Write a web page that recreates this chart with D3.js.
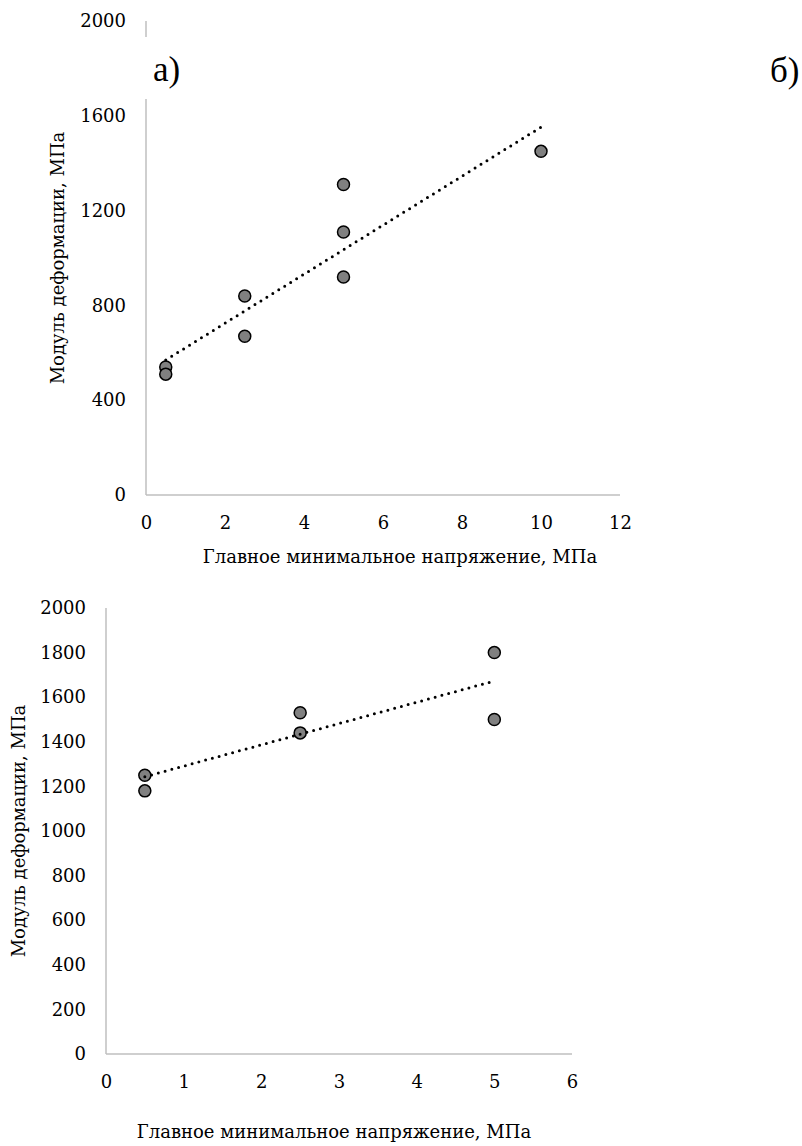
<!DOCTYPE html>
<html lang="ru">
<head>
  <meta charset="UTF-8">
  <title>Модуль деформации</title>
  <script src="https://d3js.org/d3.v7.min.js"></script>
  <style>
    body {
      margin: 0;
      background: #fff;
      font-family: "DejaVu Serif", serif;
    }
    .axis path {
      stroke: #bfbfbf;
      stroke-width: 1.5;
    }
    .axis text {
      font-family: "DejaVu Serif", serif;
      font-size: 18px;
      fill: #000;
    }
    .title {
      font-size: 18px;
      fill: #000;
    }
    .panel {
      font-family: "Liberation Serif", serif;
      font-size: 35px;
      fill: #000;
    }
  </style>
</head>
<body>
  <div id="chart"></div>

  <script>
    // данные: верхний график (а)
    const topX = [0.5, 0.5, 2.5, 2.5, 5, 5, 5, 10];
    const topY = [540, 510, 840, 670, 1310, 1110, 920, 1450];
    const topXTicks = [0, 2, 4, 6, 8, 10, 12];
    const topYTicks = [0, 400, 800, 1200, 1600, 2000];

    // данные: нижний график (б)
    const botX = [0.5, 0.5, 2.5, 2.5, 5, 5];
    const botY = [1250, 1180, 1530, 1440, 1800, 1500];
    const botXTicks = [0, 1, 2, 3, 4, 5, 6];
    const botYTicks = [0, 200, 400, 600, 800, 1000, 1200, 1400, 1600, 1800, 2000];

    const xTitle = "Главное минимальное напряжение, МПа";
    const yTitle = "Модуль деформации, МПа";

    const W = 802, H = 1146;

    const svg = d3.select("#chart")
                  .append("svg")
                  .attr("width", W)
                  .attr("height", H);

    function drawChart(cfg) {
      const x = d3.scaleLinear().domain(cfg.xDomain).range([cfg.left, cfg.right]);
      const y = d3.scaleLinear().domain([0, 2000]).range([cfg.bottom, cfg.top]);

      const g = svg.append("g");

      g.append("g")
       .attr("class", "axis")
       .attr("transform", `translate(0,${cfg.bottom})`)
       .call(d3.axisBottom(x).tickValues(cfg.xTicks).tickFormat(d => d).tickSize(0).tickPadding(21))
       .call(a => a.select(".domain").attr("d", `M${cfg.left},0H${cfg.right}`));

      g.append("g")
       .attr("class", "axis")
       .attr("transform", `translate(${cfg.left},0)`)
       .call(d3.axisLeft(y).tickValues(cfg.yTicks).tickFormat(d => d).tickSize(0).tickPadding(20))
       .call(a => a.select(".domain").attr("d", `M0,${cfg.top}V${cfg.bottom}`));

      // линия тренда (МНК)
      const mx = d3.mean(cfg.xs), my = d3.mean(cfg.ys);
      const slope = d3.sum(cfg.xs, (v, i) => (v - mx) * (cfg.ys[i] - my)) /
                    d3.sum(cfg.xs, v => (v - mx) * (v - mx));
      const icpt = my - slope * mx;
      const x0 = d3.min(cfg.xs), x1 = d3.max(cfg.xs);

      const pts = cfg.xs.map((v, i) => ({x: v, y: cfg.ys[i]}));

      g.selectAll(".dot")
       .data(pts)
       .enter()
       .append("circle")
       .attr("cx", d => x(d.x))
       .attr("cy", d => y(d.y))
       .attr("r", 6)
       .attr("fill", "#808080")
       .attr("stroke", "#000")
       .attr("stroke-width", 1.5);

      g.append("line")
       .attr("x1", x(x0)).attr("y1", y(icpt + slope * x0))
       .attr("x2", x(x1)).attr("y2", y(icpt + slope * x1))
       .attr("stroke", "#000")
       .attr("stroke-width", 3)
       .attr("stroke-linecap", "round")
       .attr("stroke-dasharray", "0 7");

      g.append("text")
       .attr("class", "title")
       .attr("x", cfg.xTitleX)
       .attr("y", cfg.xTitleY)
       .attr("text-anchor", "middle")
       .text(xTitle);

      g.append("text")
       .attr("class", "title")
       .attr("transform", `translate(${cfg.yTitleX},${(cfg.top + cfg.bottom) / 2}) rotate(-90)`)
       .attr("text-anchor", "middle")
       .text(yTitle);

      return g;
    }

    const gTop = drawChart({
      xs: topX, ys: topY, xTicks: topXTicks, yTicks: topYTicks,
      xDomain: [0, 12], left: 146, right: 620, top: 21, bottom: 495,
      xTitleX: 400, xTitleY: 563, yTitleX: 64
    });

    drawChart({
      xs: botX, ys: botY, xTicks: botXTicks, yTicks: botYTicks,
      xDomain: [0, 6], left: 106, right: 572, top: 608, bottom: 1054,
      xTitleX: 334, xTitleY: 1138, yTitleX: 25
    });

    // белая подложка под подписью "а)" перекрывает ось
    gTop.append("rect")
        .attr("x", 138).attr("y", 37)
        .attr("width", 70).attr("height", 62)
        .attr("fill", "#fff");

    svg.append("text")
       .attr("class", "panel")
       .attr("x", 153).attr("y", 81)
       .text("а)");

    svg.append("text")
       .attr("class", "panel")
       .attr("x", 770).attr("y", 82)
       .text("б)");
  </script>
</body>
</html>
